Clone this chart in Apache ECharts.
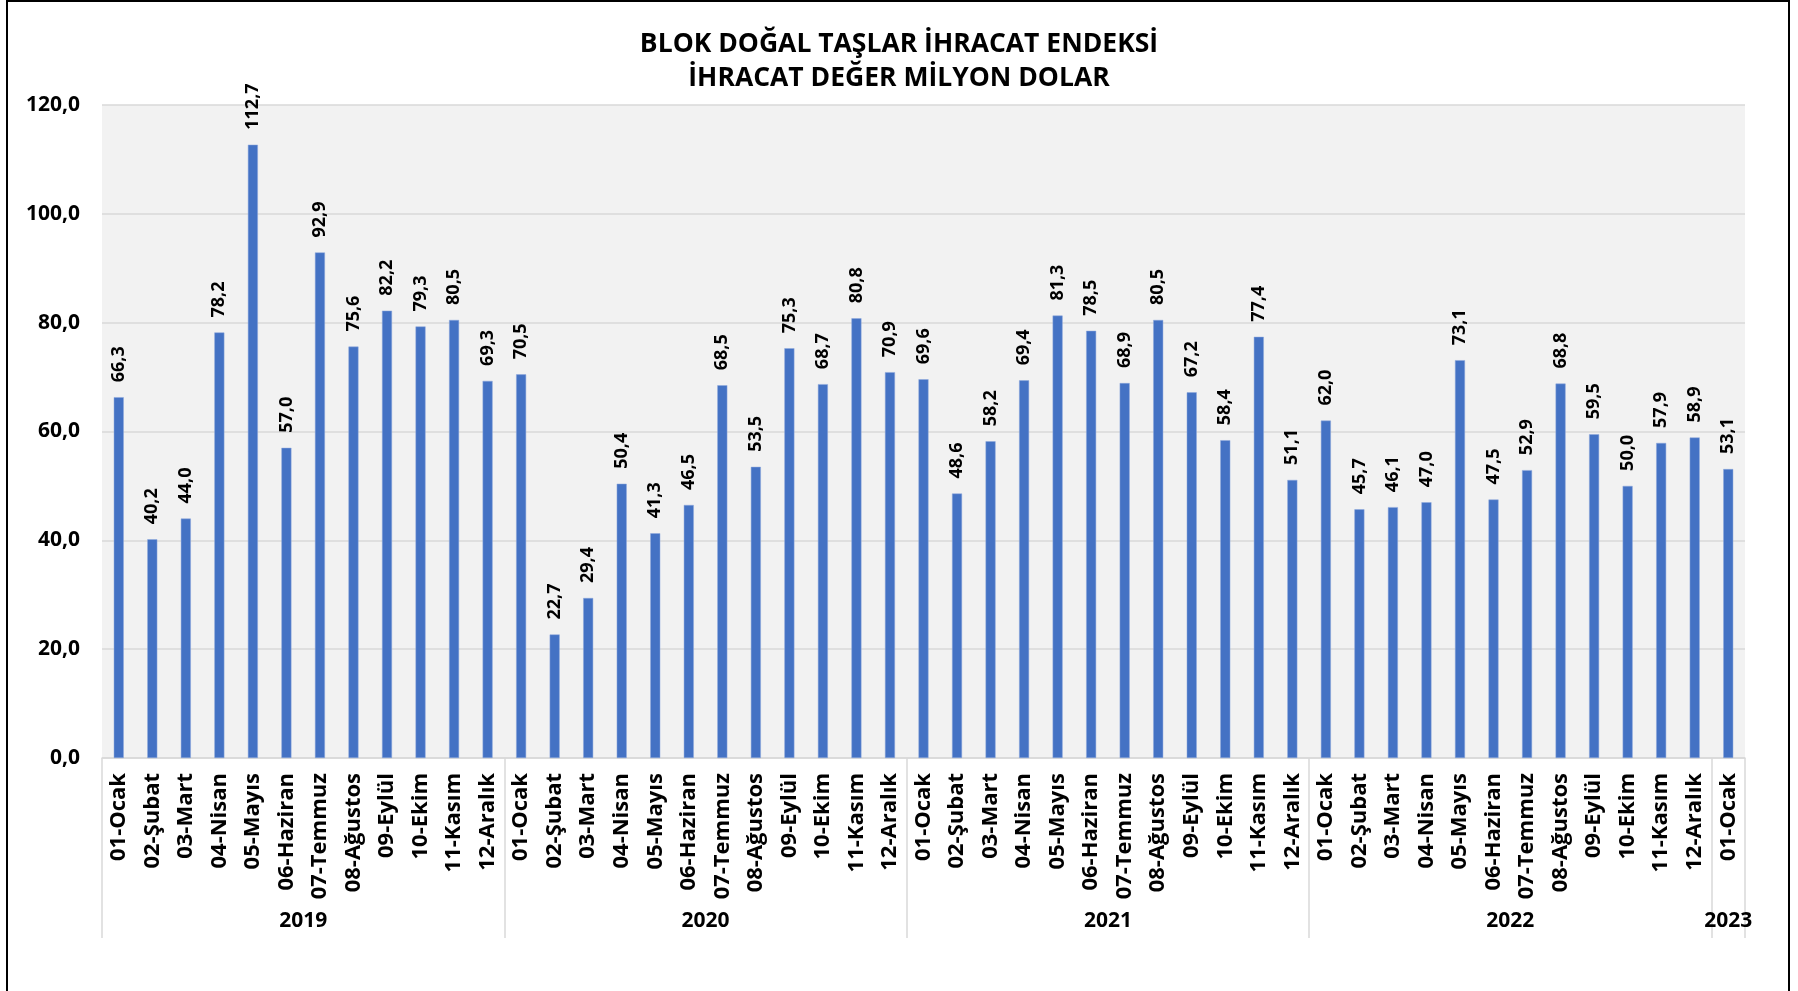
<!DOCTYPE html>
<html>
<head>
<meta charset="utf-8">
<script src="https://cdn.jsdelivr.net/npm/echarts@6/dist/echarts.min.js"></script>
<style>
html,body{margin:0;padding:0;overflow:hidden;background:#fff;}
#frame{position:absolute;left:6px;top:0px;width:1784px;height:1010px;border:2px solid #000;box-sizing:border-box;}
#main{position:absolute;left:0;top:0;width:1798px;height:991px;}
</style>
</head>
<body>
<div id="frame"></div>
<div id="main"></div>
<script>
var months = ['01-Ocak','02-Şubat','03-Mart','04-Nisan','05-Mayıs','06-Haziran','07-Temmuz','08-Ağustos','09-Eylül','10-Ekim','11-Kasım','12-Aralık'];
var years = ['2019','2020','2021','2022','2023'];
var v2019 = [66.3, 40.2, 44.0, 78.2, 112.7, 57.0, 92.9, 75.6, 82.2, 79.3, 80.5, 69.3];
var v2020 = [70.5, 22.7, 29.4, 50.4, 41.3, 46.5, 68.5, 53.5, 75.3, 68.7, 80.8, 70.9];
var v2021 = [69.6, 48.6, 58.2, 69.4, 81.3, 78.5, 68.9, 80.5, 67.2, 58.4, 77.4, 51.1];
var v2022 = [62.0, 45.7, 46.1, 47.0, 73.1, 47.5, 52.9, 68.8, 59.5, 50.0, 57.9, 58.9];
var v2023 = [53.1];
var yTicks = [0, 20, 40, 60, 80, 100, 120];

var myChart;
var option;

function fmt(v){
	return Number(v).toFixed(1).replace('.', ',');
}

function initEcharts(){
	var yearData = [v2019, v2020, v2021, v2022, v2023];
	var cats = [];
	var values = [];
	var bounds = [0];//yıl sınırları
	var mids = [];//yıl etiket yerleri
	var n = 0;
	for (var i = 0; i < yearData.length; i++) {
		var start = n;
		for (var j = 0; j < yearData[i].length; j++) {
			cats.push(months[j]);
			values.push(yearData[i][j]);
			n++;
		}
		bounds.push(n);
		mids.push((start + n) / 2);
	}

	myChart = echarts.init(document.getElementById('main'), null, {renderer: 'canvas'});
	option = {
		animation: false,
		textStyle: {fontFamily: '"Open Sans", sans-serif'},
		title: {
			text: 'BLOK DOĞAL TAŞLAR İHRACAT ENDEKSİ\nİHRACAT DEĞER MİLYON DOLAR',
			left: 'center',
			top: 22,
			textStyle: {
				fontFamily: '"Open Sans", sans-serif',
				fontSize: 26.5,
				fontWeight: 'bold',
				color: '#000',
				lineHeight: 34
			}
		},
		grid: {
			left: 102,
			right: 53,
			top: 105,
			bottom: 233,
			show: true,
			backgroundColor: '#f2f2f2',
			borderWidth: 0
		},
		xAxis: [
			{
				type: 'category',
				data: cats,
				axisLine: {show: true, lineStyle: {color: '#d9d9d9', width: 1.5}},
				axisTick: {show: false},
				axisLabel: {
					interval: 0,
					rotate: 90,
					margin: 15,
					fontSize: 22,
					fontWeight: 'bold',
					color: '#000'
				}
			},
			{
				type: 'value',
				position: 'bottom',
				min: 0,
				max: n,
				axisLine: {show: false},
				splitLine: {show: false},
				axisTick: {
					show: true,
					length: 180,
					customValues: bounds,
					lineStyle: {color: '#d9d9d9', width: 1.5}
				},
				axisLabel: {
					show: true,
					customValues: mids,
					margin: 153,
					fontSize: 21,
					fontWeight: 'bold',
					color: '#000',
					formatter: function (v) {
						return years[mids.indexOf(v)];
					}
				}
			}
		],
		yAxis: {
			type: 'value',
			min: yTicks[0],
			max: yTicks[yTicks.length - 1],
			interval: 20,
			axisLine: {show: false},
			axisTick: {show: false},
			splitLine: {lineStyle: {color: '#d9d9d9', width: 1.5}},
			axisLabel: {
				margin: 22,
				fontSize: 21,
				fontWeight: 'bold',
				color: '#000',
				formatter: fmt
			}
		},
		series: [
			{
				name: 'İhracat',
				type: 'bar',
				xAxisIndex: 0,
				barWidth: 10,
				data: values,
				itemStyle: {color: '#4472c4', borderColor: '#8fa9dc', borderWidth: 0.5},
				label: {
					show: true,
					position: 'top',
					rotate: 90,
					align: 'left',
					verticalAlign: 'middle',
					distance: 15,
					fontSize: 18,
					fontWeight: 'bold',
					color: '#000',
					formatter: function (p) { return fmt(p.value); }
				}
			}
		]
	};
	myChart.setOption(option);
}
initEcharts();
</script>
</body>
</html>
